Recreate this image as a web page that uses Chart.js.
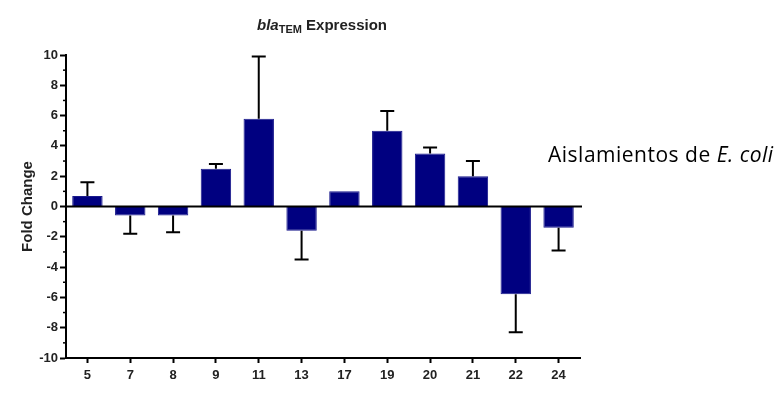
<!DOCTYPE html>
<html>
<head>
<meta charset="utf-8">
<script src="https://cdn.jsdelivr.net/npm/chart.js@4/dist/chart.umd.min.js"></script>
<style>
  html, body { margin: 0; padding: 0; background: #fff; }
  #wrap { position: relative; width: 781px; height: 397px; }
  #title {
    position: absolute; left: 222px; width: 200px; top: 16px;
    text-align: center; font: bold 15px "Liberation Sans", Arial, sans-serif; color: #222;
  }
  #title sub { font-size: 11px; vertical-align: -3px; }
  #side {
    position: absolute; left: 548px; top: 140px;
    font: 21px "Open Sans", "Noto Sans", sans-serif; color: #000; white-space: nowrap;
    letter-spacing: 0.5px;
  }
</style>
</head>
<body>
<div id="wrap">
  <canvas id="chart" width="781" height="397"></canvas>
  <div id="title"><i>bla</i><sub>TEM</sub> Expression</div>
  <div id="side">Aislamientos de <i>E. coli</i></div>
</div>
<script>
var isolates = ['5', '7', '8', '9', '11', '13', '17', '19', '20', '21', '22', '24'];
var foldChange = [0.7, -0.6, -0.6, 2.5, 5.8, -1.6, 1.0, 5.0, 3.5, 2.0, -5.8, -1.4];
var errorEnd = [1.6, -1.8, -1.7, 2.8, 9.9, -3.5, 1.0, 6.3, 3.9, 3.0, -8.3, -2.9];
var yTicks = [-10, -8, -6, -4, -2, 0, 2, 4, 6, 8, 10];

var axisFont = { family: 'Liberation Sans', size: 13, weight: 'bold' };

var extras = {
  id: 'extras',
  afterDatasetsDraw: function (chart) {
    var ctx = chart.ctx;
    var x = chart.scales.x;
    var y = chart.scales.y;
    var area = chart.chartArea;
    ctx.save();
    ctx.strokeStyle = '#000';
    ctx.lineWidth = 2;
    // error bars
    errorEnd.forEach(function (e, i) {
      var cx = x.getPixelForValue(i);
      var y0 = y.getPixelForValue(foldChange[i]);
      var y1 = y.getPixelForValue(e);
      if (Math.abs(y1 - y0) < 1) return;
      ctx.beginPath();
      ctx.moveTo(cx, y0);
      ctx.lineTo(cx, y1);
      ctx.moveTo(cx - 7, y1);
      ctx.lineTo(cx + 7, y1);
      ctx.stroke();
    });
    // zero line
    var zy = y.getPixelForValue(0);
    ctx.beginPath();
    ctx.moveTo(area.left, zy);
    ctx.lineTo(area.right + 2, zy);
    ctx.stroke();
    // minor ticks on y axis
    ctx.lineWidth = 1.5;
    for (var v = -9; v <= 9; v += 2) {
      var py = y.getPixelForValue(v);
      ctx.beginPath();
      ctx.moveTo(area.left - 3, py);
      ctx.lineTo(area.left, py);
      ctx.stroke();
    }
    // y axis title
    ctx.translate(28, (area.top + area.bottom) / 2);
    ctx.rotate(-Math.PI / 2);
    ctx.fillStyle = '#222';
    ctx.font = 'bold 15px "Liberation Sans"';
    ctx.textAlign = 'center';
    ctx.textBaseline = 'middle';
    ctx.fillText('Fold Change', 0, 0);
    ctx.restore();
  }
};

new Chart(document.getElementById('chart').getContext('2d'), {
  type: 'bar',
  data: {
    labels: isolates,
    datasets: [{
      data: foldChange,
      backgroundColor: '#000080',
      borderColor: '#1a1a8c',
      borderWidth: 1,
      categoryPercentage: 1,
      barPercentage: 0.71
    }]
  },
  options: {
    responsive: false,
    animation: false,
    layout: { padding: { left: 0, top: 55, right: 201, bottom: 0 } },
    plugins: { legend: { display: false }, tooltip: { enabled: false } },
    scales: {
      x: {
        afterFit: function (s) { s.height = 39; },
        grid: { offset: false, drawOnChartArea: false, tickLength: 5, tickColor: '#000', tickWidth: 2 },
        border: { color: '#000', width: 2 },
        ticks: { color: '#222', font: axisFont, padding: 5, maxRotation: 0 }
      },
      y: {
        min: -10,
        max: 10,
        afterFit: function (s) { s.width = 66; },
        afterBuildTicks: function (s) { s.ticks = yTicks.map(function (v) { return { value: v }; }); },
        grid: { drawOnChartArea: false, tickLength: 6, tickColor: '#000', tickWidth: 2 },
        border: { color: '#000', width: 2 },
        ticks: { color: '#222', font: axisFont, padding: 2 }
      }
    }
  },
  plugins: [extras]
});
</script>
</body>
</html>
